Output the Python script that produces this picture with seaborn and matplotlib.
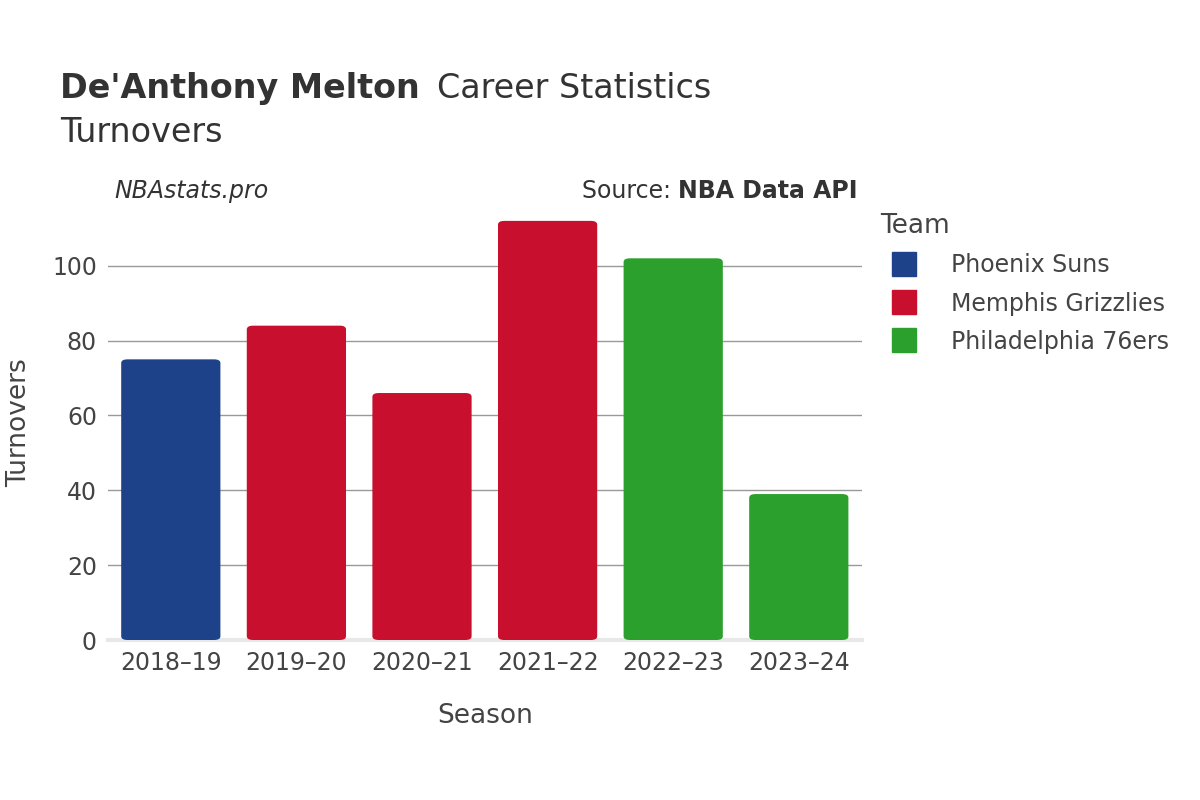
import matplotlib
matplotlib.use("Agg")
import matplotlib.pyplot as plt
import seaborn as sns
import pandas as pd
from matplotlib.patches import FancyBboxPatch
from matplotlib.lines import Line2D

plt.rcParams["font.family"] = "DejaVu Sans"

seasons = ["2018–19", "2019–20", "2020–21", "2021–22", "2022–23", "2023–24"]
teams = ["Phoenix Suns", "Memphis Grizzlies", "Memphis Grizzlies", "Memphis Grizzlies",
         "Philadelphia 76ers", "Philadelphia 76ers"]
turnovers = [75, 84, 66, 112, 102, 39]
team_order = ["Phoenix Suns", "Memphis Grizzlies", "Philadelphia 76ers"]
team_colors = ["#1d428a", "#c8102e", "#2ca02c"]

df = pd.DataFrame({"Season": seasons, "Team": teams, "Turnovers": turnovers})
palette = dict(zip(team_order, team_colors))

fig = plt.figure(figsize=(12, 8), dpi=100)
ax = fig.add_axes([0.09, 0.2, 0.628, 0.544])
sns.barplot(data=df, x="Season", y="Turnovers", hue="Team", hue_order=team_order,
            palette=palette, dodge=False, width=0.79, saturation=1, ax=ax, legend=False)

# swap plain bars for rounded ones
for p in list(ax.patches):
    if p.get_height() <= 0:
        p.remove()
        continue
    x, y, w, h = p.get_x(), p.get_y(), p.get_width(), p.get_height()
    fb = FancyBboxPatch((x, y), w, h, boxstyle="round,pad=0,rounding_size=0.05",
                        mutation_aspect=20, facecolor=p.get_facecolor(), edgecolor="none", zorder=3)
    p.remove()
    ax.add_patch(fb)

ax.set_ylim(0, 116.3)
ax.set_xlim(-0.5, 5.5)
ax.set_yticks([0, 20, 40, 60, 80, 100])
ax.yaxis.grid(True, color="#999999", linewidth=1)
ax.set_axisbelow(True)
for s in ["top", "right", "left"]:
    ax.spines[s].set_visible(False)
ax.spines["bottom"].set_color("#e8e8e8")
ax.spines["bottom"].set_linewidth(3)
ax.tick_params(length=0, labelsize=17, colors="#444444", pad=8)
ax.set_xlabel("Season", fontsize=19, color="#444444", labelpad=20)
ax.set_ylabel("Turnovers", fontsize=19, color="#444444", labelpad=14)

fig.text(0.05, 0.878, "De'Anthony Melton", fontsize=24, fontweight="bold", color="#333333")
fig.text(0.364, 0.878, "Career Statistics", fontsize=24, color="#333333")
fig.text(0.05, 0.822, "Turnovers", fontsize=24, color="#333333")
fig.text(0.095, 0.752, "NBAstats.pro", fontsize=17, style="italic", color="#333333")
src = fig.text(0.715, 0.752, "NBA Data API", fontsize=17, fontweight="bold",
               color="#333333", ha="right")
fig.canvas.draw()
bb = src.get_window_extent().transformed(fig.transFigure.inverted())
fig.text(bb.x0, 0.752, "Source: ", fontsize=17, color="#333333", ha="right")

handles = [Line2D([0], [0], marker="s", linestyle="", markersize=17, markerfacecolor=c,
                  markeredgecolor=c) for c in team_colors]
leg = fig.legend(handles, team_order, loc="upper left", bbox_to_anchor=(0.716, 0.76),
                 frameon=False, fontsize=17, title="Team", title_fontsize=19,
                 labelspacing=0.6, handletextpad=1.0, alignment="left")
for t in leg.get_texts():
    t.set_color("#444444")
leg.get_title().set_color("#444444")

fig.savefig("out.png", dpi=100, facecolor="white")
